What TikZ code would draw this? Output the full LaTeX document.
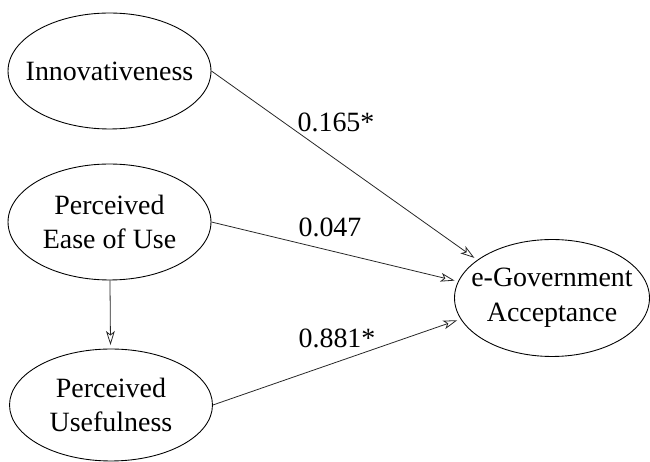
\documentclass[tikz,border=0pt]{standalone}
\usepackage{fontspec}
\setmainfont{Liberation Serif}
\usepackage{tikz}
\usetikzlibrary{shapes.geometric, arrows.meta, positioning}
\tikzset{latent/.style={ellipse, draw=black, line width=0.5pt, align=center, inner xsep=-0.3cm, inner ysep=0pt,
    minimum width=4.06cm, minimum height=2.32cm, font=\rmfamily\fontsize{15.9}{19.8}\selectfont},
  coef/.style={font=\rmfamily\fontsize{15.9}{19.8}\selectfont, inner sep=0pt},
  path/.style={draw=black!85, line width=0.45pt, -{Stealth[open, length=8pt, width=5pt, inset=2pt]}, shorten >=2pt}}

\begin{document}
\begin{tikzpicture}[x=0.02cm, y=-0.02cm]
  \useasboundingbox (0,0) rectangle (650,462);

  \node[latent] (inno) at (109.5,71) {Innovativeness};
  \node[latent] (peou) at (109.5,222) {Perceived\\Ease of Use};
  \node[latent, minimum height=2.24cm] (pu) at (111,405) {Perceived\\Usefulness};
  \node[latent, minimum width=3.9cm, minimum height=2.34cm] (egov) at (552,298) {e-Government\\Acceptance};

  % path coefficients
  \node[coef] (c1) at (336,122) {0.165*};
  \node[coef] (c2) at (330,227) {0.047};
  \node[coef] (c3) at (337,338) {0.881*};

  \draw[path] (inno.east) -- (egov.153);
  \draw[path] (peou.east) -- (egov.170);
  \draw[path] (pu.east) -- (egov.193);
  \draw[path] (peou) -- (pu);
\end{tikzpicture}
\end{document}
